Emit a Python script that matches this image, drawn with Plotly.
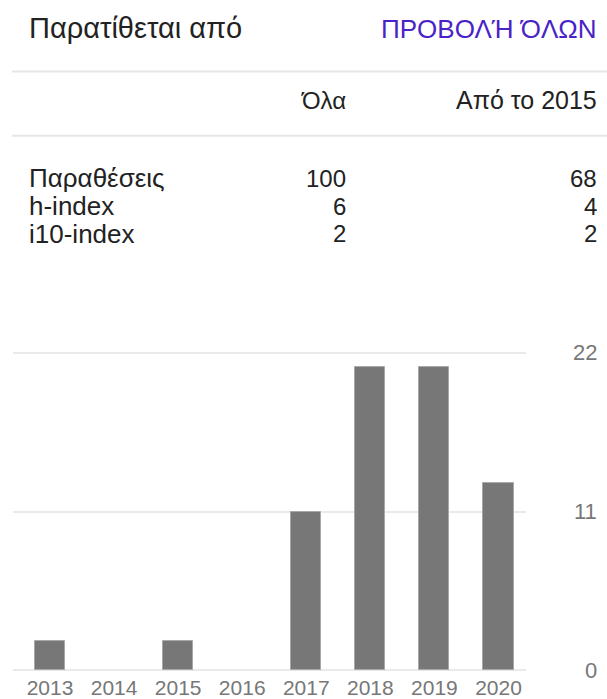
import plotly.graph_objects as go

W, H = 607, 699

# ---- data ----
years = [2013, 2014, 2015, 2016, 2017, 2018, 2019, 2020]
citations = [2, 0, 2, 0, 11, 21, 21, 13]
y_ticks = [0, 11, 22]

title_left = "Παρατίθεται από"
title_link = "ΠΡΟΒΟΛΉ ΌΛΩΝ"
col_headers = ["Όλα", "Από το 2015"]
row_labels = ["Παραθέσεις", "h-index", "i10-index"]
col_all = [100, 6, 2]
col_since = [68, 4, 2]

FONT = "Liberation Sans, Arial, sans-serif"
TXT = "#222222"
GRAY = "#777777"


def px(x):
    return x / W


def py(y):
    return 1 - y / H


fig = go.Figure()
fig.add_trace(go.Bar(
    x=years, y=citations, width=0.47,
    marker=dict(color="#777777",
                line=dict(color="#a8a8a8", width=[1 if v > 0 else 0 for v in citations])),
    hoverinfo="skip", showlegend=False,
))

# chart geometry (pixels)
x_left, x_right = 13, 526
c_first, step = 50, 64.07
y0_px, y22_px = 676, 356
unit = (y0_px - y22_px) / 22.0
pad = 0.2
ybot = y0_px + pad * unit
ytop = y22_px - pad * unit

fig.update_layout(
    width=W, height=H,
    margin=dict(l=0, r=0, t=0, b=0),
    paper_bgcolor="white", plot_bgcolor="white",
    font=dict(family=FONT, color=TXT),
    bargap=0,
    xaxis=dict(
        domain=[px(x_left), px(x_right)],
        range=[years[0] - (c_first - x_left) / step,
               years[-1] + (x_right - (c_first + 7 * step)) / step],
        tickmode="array", tickvals=years, ticktext=[str(v) for v in years],
        tickfont=dict(family=FONT, size=21, color=GRAY),
        showgrid=False, zeroline=False, showline=False, ticks="",
        fixedrange=True,
    ),
    yaxis=dict(
        domain=[py(ybot), py(ytop)],
        range=[-pad, 22 + pad],
        tickmode="array", tickvals=y_ticks,
        showticklabels=False,
        showgrid=True, gridcolor="#eaeaea", gridwidth=2,
        zeroline=False, showline=False, ticks="",
        fixedrange=True,
    ),
)

ann = []
# right-hand value labels, positioned on the y scale
for v in y_ticks:
    ann.append(dict(x=px(599), xref="paper", y=v, yref="y", text=str(v),
                    xanchor="right", yanchor="middle",
                    font=dict(size=22, color=GRAY, family=FONT)))

ann.append(dict(x=px(27), y=py(28), text=title_left, xanchor="left", yanchor="middle",
                font=dict(size=29, color=TXT, family=FONT)))
ann.append(dict(x=px(599), y=py(29), text=title_link, xanchor="right", yanchor="middle",
                font=dict(size=26, color="#4a23c8", family=FONT)))
ann.append(dict(x=px(348), y=py(101), text=col_headers[0], xanchor="right", yanchor="middle",
                font=dict(size=24, color=TXT, family=FONT)))
ann.append(dict(x=px(599), y=py(101), text=col_headers[1], xanchor="right", yanchor="middle",
                font=dict(size=25, color=TXT, family=FONT)))
row_y = [180, 208, 236]
for lab, a, s, yy in zip(row_labels, col_all, col_since, row_y):
    ann.append(dict(x=px(27), y=py(yy), text=lab, xanchor="left", yanchor="middle",
                    font=dict(size=26, color=TXT, family=FONT)))
    ann.append(dict(x=px(348), y=py(yy), text=str(a), xanchor="right", yanchor="middle",
                    font=dict(size=24, color=TXT, family=FONT)))
    ann.append(dict(x=px(599), y=py(yy), text=str(s), xanchor="right", yanchor="middle",
                    font=dict(size=24, color=TXT, family=FONT)))
for a in ann:
    a.setdefault("xref", "paper")
    a.setdefault("yref", "paper")
    a["showarrow"] = False
fig.update_layout(annotations=ann)

fig.update_layout(shapes=[
    dict(type="line", xref="paper", yref="paper", x0=px(12), x1=1, y0=py(72), y1=py(72),
         line=dict(color="#e6e6e6", width=2)),
    dict(type="line", xref="paper", yref="paper", x0=px(12), x1=1, y0=py(137), y1=py(137),
         line=dict(color="#e6e6e6", width=2)),
])

fig.write_html("out.html", config={"displayModeBar": False})

# remove the default page margin so the figure fills the window exactly
with open("out.html", "r", encoding="utf-8") as f:
    html = f.read()
html = html.replace("<head>", "<head><style>html,body{margin:0;padding:0;overflow:hidden}</style>", 1)
with open("out.html", "w", encoding="utf-8") as f:
    f.write(html)
